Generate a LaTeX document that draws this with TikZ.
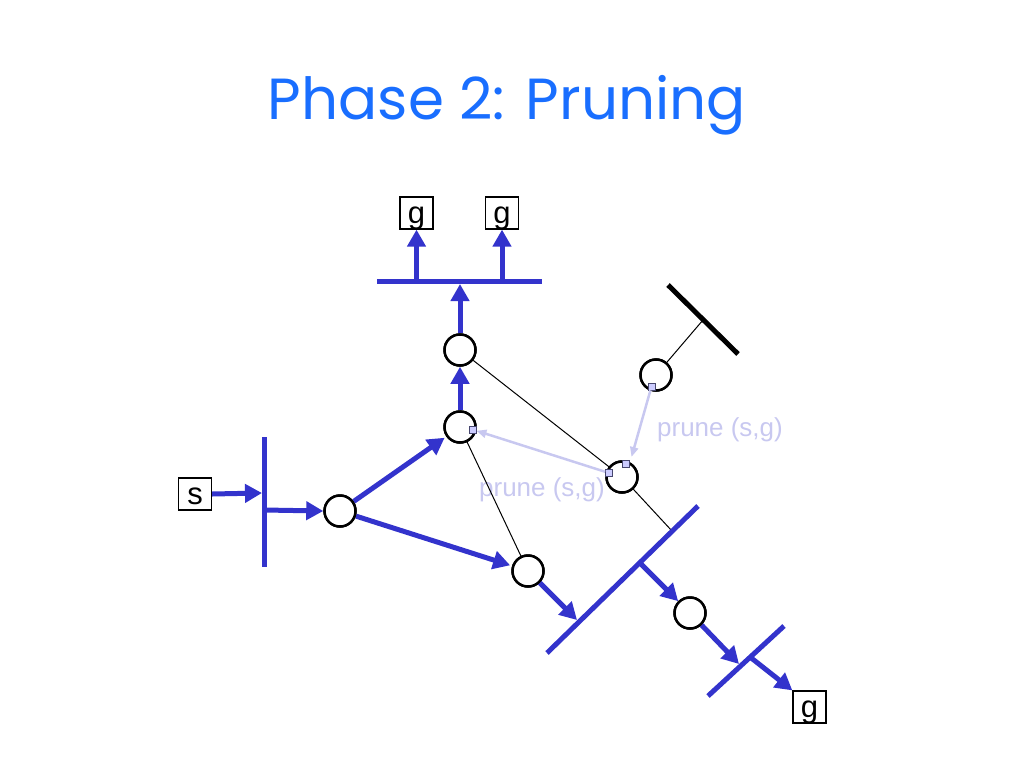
\documentclass[tikz,border=0pt]{standalone}
\usepackage{fontspec}
\setmainfont{Liberation Sans}
\newfontfamily\titlefont{Poppins}
\usetikzlibrary{arrows.meta}
\definecolor{planblue}{RGB}{51,51,204}
\definecolor{titleblue}{RGB}{25,110,255}
\definecolor{prunecol}{RGB}{200,200,240}
\definecolor{sqfill}{RGB}{204,204,255}
\definecolor{sqdraw}{RGB}{70,70,110}
\tikzset{
  plannode/.style={circle,draw=black,line width=2.5pt,minimum size=31pt,inner sep=0pt,fill=white},
  litbox/.style={draw=black,line width=1.2pt,minimum width=33pt,minimum height=32pt,inner sep=0pt,font=\fontsize{31}{33}\selectfont,text height=20pt,text depth=0pt},
  bluearrow/.style={draw=planblue,line width=5pt,-{Triangle[length=17pt,width=18pt]}},
  bluebar/.style={draw=planblue,line width=5pt},
  blackbar/.style={draw=black,line width=5pt},
  thinlink/.style={draw=black,line width=1pt},
  prunearrow/.style={draw=prunecol,line width=2.5pt,-{Triangle[length=10pt,width=8pt]}},
  prunelabel/.style={text=prunecol,font=\fontsize{26}{28}\selectfont,inner sep=0pt},
  marksq/.style={draw=sqdraw,fill=sqfill,line width=0.8pt,minimum size=7pt,inner sep=0pt}
}
\begin{document}
\begin{tikzpicture}[x=1pt,y=-1pt]
\useasboundingbox (0,0) rectangle (1024,768);
% title
\node[text=titleblue,font=\titlefont\fontsize{58}{62}\selectfont] (title) at (507,105) {Phase 2: Pruning};

% literal boxes
\node[litbox] (g1) at (416.5,213) {g};
\node[litbox] (g2) at (502,213) {g};
\node[litbox] (s) at (195,494) {s};
\node[litbox] (g3) at (809.5,707) {g};

% plan nodes
\node[plannode] (F) at (340,511) {};
\node[plannode] (B) at (460,427) {};
\node[plannode] (A) at (460,350) {};
\node[plannode] (C) at (622,477) {};
\node[plannode] (D) at (656,375) {};
\node[plannode] (E) at (528,571) {};
\node[plannode] (G) at (690,613) {};

% bar coordinates
\coordinate (tb1) at (377,281);
\coordinate (tb2) at (542,281);
\coordinate (tbg1) at (416.5,281);
\coordinate (tbg2) at (502,281);
\coordinate (tbin) at (460,284);
\coordinate (vb1) at (264,437);
\coordinate (vb2) at (264,567);
\coordinate (vbin) at (262,493);
\coordinate (vbout) at (264,510);
\coordinate (bb1) at (547,653);
\coordinate (bb2) at (698,506);
\coordinate (bbin) at (577,620);
\coordinate (bbout) at (640,563);
\coordinate (bbthin) at (672,531);
\coordinate (sb1) at (708,696);
\coordinate (sb2) at (784,626);
\coordinate (sbin) at (739,664);
\coordinate (sbout) at (750,657);
\coordinate (kb1) at (668,285);
\coordinate (kb2) at (738,354);
\coordinate (kbmid) at (703,320);

% prune labels
\node[prunelabel] (pl1) at (720,430) {prune (s,g)};
\node[prunelabel] (pl2) at (542,490) {prune (s,g)};

% thin links
\draw[thinlink] (A) -- (C);
\draw[thinlink] (C) -- (bbthin);
\draw[thinlink] (B) -- (E);
\draw[thinlink] (D) -- (kbmid);

% bars
\draw[bluebar] (tb1) -- (tb2);
\draw[bluebar] (vb1) -- (vb2);
\draw[bluebar] (bb1) -- (bb2);
\draw[bluebar] (sb1) -- (sb2);
\draw[blackbar] (kb1) -- (kb2);

% blue arrows
\draw[bluearrow] (tbg1) -- (g1.south);
\draw[bluearrow] (tbg2) -- (g2.south);
\draw[bluearrow] (A.north) -- (tbin);
\draw[bluearrow] (B.north) -- (A.south);
\draw[bluearrow] (s.east) -- (vbin);
\draw[bluearrow] (vbout) -- (F.west);
\draw[bluearrow, shorten >=2pt] (F) -- (B);
\draw[bluearrow, shorten >=2pt] (F) -- (E);
\draw[bluearrow] (E) -- (bbin);
\draw[bluearrow] (bbout) -- (G);
\draw[bluearrow] (G) -- (sbin);
\draw[bluearrow] (sbout) -- (g3.north west);

% redraw nodes over arrows
\node[plannode] at (F) {};
\node[plannode] at (B) {};
\node[plannode] at (A) {};
\node[plannode] at (C) {};
\node[plannode] at (D) {};
\node[plannode] at (E) {};
\node[plannode] at (G) {};

% marks
\node[marksq] (sqB) at (472.5,429.5) {};
\node[marksq] (sqD) at (651.5,386.5) {};
\node[marksq] (sqC1) at (609,473) {};
\node[marksq] (sqC2) at (626,464) {};

% prune arrows
\draw[prunearrow] (sqD) -- (631.5,457);
\draw[prunearrow] (sqC1) -- (sqB);
\end{tikzpicture}
\end{document}
